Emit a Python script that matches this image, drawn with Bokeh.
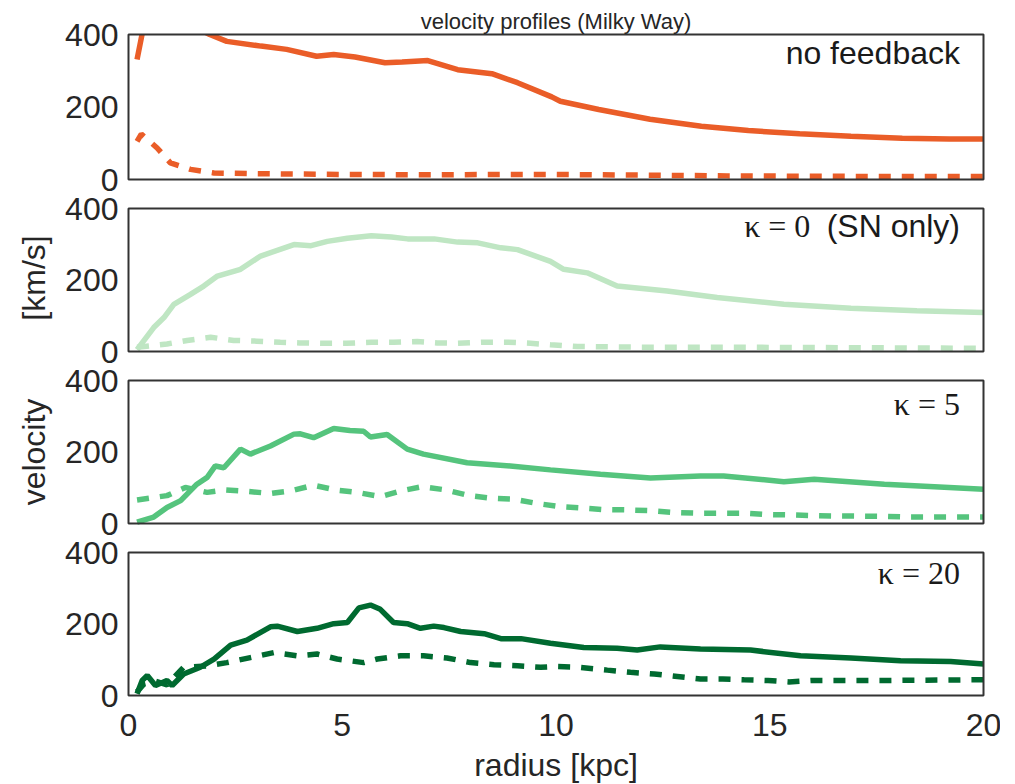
import math
from bokeh.plotting import figure
from bokeh.models import Range1d
from bokeh.core.properties import value
from bokeh.embed import file_html
from bokeh.resources import INLINE

# ---------------- data (radius in kpc, velocity in km/s) ----------------
nofb_r = [0.2, 0.35, 0.6, 1.0, 1.4, 1.9, 2.3, 3.1, 3.7, 4.4, 4.8, 5.3, 6.0, 6.4, 7.0, 7.7, 8.5, 9.1, 9.9, 10.1,
          11.0, 12.2, 13.4, 14.5, 15.7, 16.9, 18.1, 19.2, 20.0]
nofb_v = [331, 420, 480, 470, 430, 400, 381, 368, 359, 340, 345, 338, 322, 324, 328, 303, 292, 267, 228, 216,
          193, 166, 147, 135, 126, 119, 114, 112, 112]
nofb_dr = [0.2, 0.3, 0.45, 0.67, 0.98, 1.45, 2.0, 3.0, 5.0, 7.0, 9.0, 10.0, 12.0, 14.0, 16.0, 18.0, 20.0]
nofb_dv = [105, 125, 110, 87, 46, 28, 18, 16, 14, 13, 14, 14, 12, 10, 9, 8, 8]

k0_r = [0.2, 0.59, 0.83, 1.06, 1.45, 1.76, 2.08, 2.62, 3.09, 3.87, 4.27, 4.65, 5.12, 5.68, 6.15, 6.53, 7.15, 7.7,
        8.17, 8.71, 9.1, 9.87, 10.18, 10.73, 11.43, 12.6, 13.77, 15.33, 16.9, 18.44, 20.0]
k0_v = [5, 67, 95, 132, 160, 183, 211, 230, 267, 299, 296, 308, 317, 324, 320, 315, 315, 306,
        304, 290, 285, 252, 230, 220, 183, 169, 151, 132, 121, 114, 109]
k0_dr = [0.2, 0.9, 1.37, 1.92, 2.46, 3.0, 3.55, 4.0, 4.56, 5.1, 5.68, 6.2, 6.75, 7.22, 7.7, 8.25, 8.86, 9.4,
         9.87, 10.5, 12.0, 14.0, 16.0, 18.0, 20.0]
k0_dv = [12, 21, 31, 40, 31, 29, 26, 24, 23, 23, 26, 26, 28, 24, 23, 26, 26, 23,
         19, 14, 12, 12, 11, 10, 9]

k5_r = [0.2, 0.59, 0.9, 1.22, 1.6, 1.84, 2.03, 2.23, 2.62, 2.85, 3.32, 3.87, 4.02, 4.33, 4.8, 5.18, 5.5, 5.66,
        6.05, 6.52, 6.9, 7.92, 8.93, 9.87, 11.04, 12.21, 13.38, 13.92, 15.33, 16.04, 17.68, 18.85, 20.0]
k5_v = [4, 18, 45, 64, 110, 129, 161, 156, 208, 194, 217, 250, 251, 240, 266, 260, 258, 242,
        249, 208, 194, 170, 161, 150, 138, 127, 133, 133, 117, 124, 110, 103, 96]
k5_dr = [0.2, 0.9, 1.33, 1.84, 2.26, 2.77, 3.32, 3.83, 4.33, 4.88, 5.35, 5.89, 6.4, 6.87, 7.42, 7.97, 8.47,
         9.01, 9.56, 10.1, 10.65, 11.1, 11.66, 12.2, 12.75, 13.3, 14.4, 14.94, 15.5, 16.04, 16.6, 17.7, 18.2, 20.0]
k5_dv = [66, 78, 101, 87, 94, 90, 84, 92, 107, 93, 87, 75, 92, 103, 94, 78, 71,
         68, 56, 47, 43, 39, 38, 36, 31, 29, 29, 25, 24, 22, 21, 20, 18, 18]

k20_r = [0.2, 0.32, 0.44, 0.63, 0.9, 1.02, 1.29, 1.68, 2.0, 2.39, 2.77, 3.32, 3.48, 3.95, 4.41, 4.8, 5.12, 5.39,
         5.66, 5.89, 6.2, 6.52, 6.83, 7.14, 7.38, 7.77, 8.32, 8.71, 9.18, 9.87, 10.65, 11.43, 11.9, 12.44, 13.38,
         14.55, 15.72, 16.9, 18.06, 19.23, 20.0]
k20_v = [5, 42, 56, 28, 42, 28, 60, 79, 102, 141, 155, 192, 194, 179, 188, 201, 204, 245,
         253, 241, 204, 201, 188, 194, 190, 179, 173, 159, 159, 146, 134, 132, 127, 136, 130,
         127, 111, 105, 97, 95, 88]
k20_dr = [0.2, 0.36, 0.63, 0.9, 1.29, 1.84, 2.3, 2.85, 3.4, 3.95, 4.41, 4.88, 5.5, 5.82, 6.36, 6.9, 7.45, 8.0,
          8.55, 9.1, 9.64, 10.0, 10.55, 11.2, 11.74, 12.3, 12.84, 13.38, 13.9, 14.4, 14.96, 15.45, 16.0, 17.7, 20.0]
k20_dv = [10, 32, 40, 30, 79, 83, 92, 106, 120, 111, 116, 102, 92, 102, 111, 111, 105, 92,
          86, 83, 79, 81, 79, 71, 65, 60, 53, 46, 46, 44, 42, 38, 42, 42, 44]

y_ticks = [0, 200, 400]
x_ticks = [0, 5, 10, 15, 20]
x_tick_labels = ["0", "5", "10", "15", "20"]
panel_labels = ["no feedback", "κ = 0", "κ = 5", "κ = 20"]
title_text = "velocity profiles (Milky Way)"
x_label = "radius [kpc]"
y_label_parts = ["[km/s]", "velocity"]

colors = ["#ea5d28", "#bfe6c3", "#55c47d", "#006a30"]

# ---------------- layout constants (pixels) ----------------
W, H = 1000, 784
FL, FR = 128, 983                       # panel left / right edges
PANELS = [(34, 179), (208, 351), (380, 523), (552, 695)]   # (top, bottom) of each panel
LABEL_Y = [348, 350, 334, 343]          # vertical centre of the panel captions (panel units)
XMIN, XMAX = 0, 20
YMIN, YMAX = 0, 400

SANS = "Liberation Sans"
SERIF = "Liberation Serif"
TXT = "#262626"
FS = "32px"

pxk = (FR - FL) / (XMAX - XMIN)
x_range = Range1d(XMIN - FL / pxk, XMAX + (W - FR) / pxk)

p = figure(frame_width=W, frame_height=H, x_range=x_range, y_range=Range1d(0, H),
           output_backend="svg", toolbar_location=None,
           x_axis_location=None, y_axis_location=None,
           min_border=0, min_border_left=0, min_border_right=0, min_border_top=0, min_border_bottom=0)
p.grid.visible = False
p.outline_line_color = None
p.background_fill_color = "white"
p.border_fill_color = "white"

names = []
for i, (t, b) in enumerate(PANELS):
    bb, tt = H - b, H - t
    s = (YMAX - YMIN) / (tt - bb)
    nm = f"p{i}"
    p.extra_y_ranges[nm] = Range1d(YMIN - bb * s, YMAX + (H - tt) * s)
    names.append(nm)

LW = 5.5
DASH = "12 11"

series = [(nofb_r, nofb_v, nofb_dr, nofb_dv), (k0_r, k0_v, k0_dr, k0_dv),
          (k5_r, k5_v, k5_dr, k5_dv), (k20_r, k20_v, k20_dr, k20_dv)]
for i, (r, v, dr, dv) in enumerate(series):
    p.line(r, v, line_color=colors[i], line_width=LW, y_range_name=names[i])
    p.line(dr, dv, line_color=colors[i], line_width=LW, line_dash=DASH, y_range_name=names[i])

# hide what lies above the top panel's upper limit (clipping like an axes box)
p.quad(left=[x_range.start], right=[x_range.end], bottom=[YMAX], top=[YMAX * 3],
       fill_color="white", line_color=None, y_range_name=names[0])

# panel frames and y tick labels
for i, nm in enumerate(names):
    p.quad(left=[XMIN], right=[XMAX], bottom=[YMIN], top=[YMAX], fill_color=None,
           line_color="#333333", line_width=2, y_range_name=nm)
    p.text(x=[XMIN] * len(y_ticks), y=y_ticks, text=[str(t) for t in y_ticks], y_range_name=nm,
           x_offset=-10, text_align="right", text_baseline="middle",
           text_font=value(SANS), text_font_size=value(FS), text_color=TXT)

# x tick labels (bottom panel) and axis labels (centres given in pixels from the top)
p.text(x=x_ticks, y=[H - 724] * len(x_ticks), text=x_tick_labels, text_align="center",
       text_baseline="middle", text_font=value(SANS), text_font_size=value(FS), text_color=TXT)
p.text(x=[(XMIN + XMAX) / 2], y=[H - 764], text=[x_label], text_align="center",
       text_baseline="middle", text_font=value(SANS), text_font_size=value(FS), text_color=TXT)
ylab_x = XMIN - (FL - 33) / pxk
p.text(x=[ylab_x, ylab_x], y=[H - 277.5, H - 451.5], text=y_label_parts, angle=math.pi / 2,
       text_align="center", text_baseline="middle",
       text_font=value(SANS), text_font_size=value(FS), text_color=TXT)

# title
p.text(x=[(XMIN + XMAX) / 2], y=[H - 21], text=[title_text], text_align="center",
       text_baseline="middle", text_font=value(SANS), text_font_size=value("22px"), text_color=TXT)

# panel annotations
LAB = "#1a1a1a"
p.text(x=[19.45], y=[LABEL_Y[0]], text=[panel_labels[0]], y_range_name=names[0], text_align="right",
       text_baseline="middle", text_font=value(SANS), text_font_size=value(FS), text_color=LAB)
p.text(x=[19.45], y=[LABEL_Y[1]], text=["(SN only)"], y_range_name=names[1], text_align="right",
       text_baseline="middle", text_font=value(SANS), text_font_size=value(FS), text_color=LAB)
p.text(x=[15.95], y=[LABEL_Y[1]], text=[panel_labels[1]], y_range_name=names[1], text_align="right",
       text_baseline="middle", text_font=value(SERIF), text_font_size=value(FS), text_color=LAB)
p.text(x=[19.45], y=[LABEL_Y[2]], text=[panel_labels[2]], y_range_name=names[2], text_align="right",
       text_baseline="middle", text_font=value(SERIF), text_font_size=value(FS), text_color=LAB)
p.text(x=[19.45], y=[LABEL_Y[3]], text=[panel_labels[3]], y_range_name=names[3], text_align="right",
       text_baseline="middle", text_font=value(SERIF), text_font_size=value(FS), text_color=LAB)

open("out.html", "w").write(file_html(p, INLINE))
